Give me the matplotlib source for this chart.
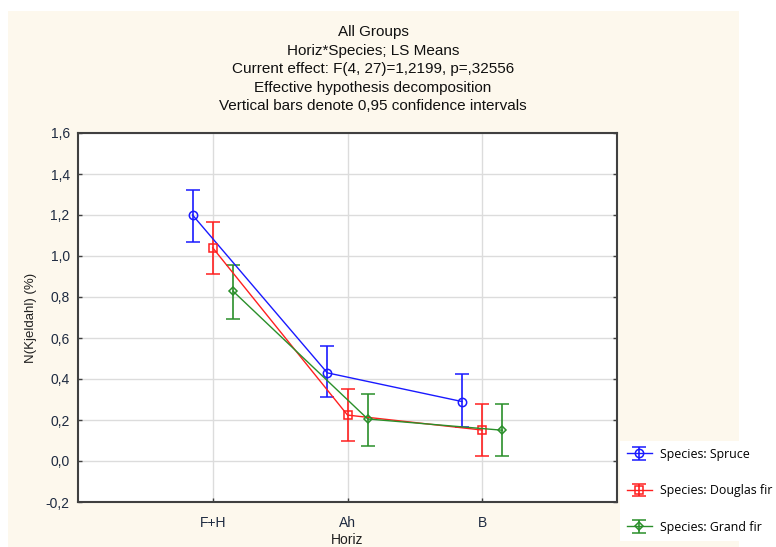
import numpy as np
import matplotlib.pyplot as plt
from matplotlib.patches import Rectangle
from matplotlib.ticker import FuncFormatter

# Horizons and LS means with 0.95 CI bounds
horizons = ["F+H", "Ah", "B"]
species = ["Species: Spruce", "Species: Douglas fir", "Species: Grand fir"]

spruce = [1.20, 0.43, 0.29]
spruce_lo = [1.07, 0.31, 0.166]
spruce_hi = [1.32, 0.56, 0.424]

douglas = [1.04, 0.224, 0.151]
douglas_lo = [0.912, 0.098, 0.024]
douglas_hi = [1.166, 0.351, 0.278]

grand = [0.829, 0.205, 0.15]
grand_lo = [0.695, 0.075, 0.024]
grand_hi = [0.956, 0.327, 0.278]

means = [spruce, douglas, grand]
lows = [spruce_lo, douglas_lo, grand_lo]
highs = [spruce_hi, douglas_hi, grand_hi]
colors = ["#1a1aff", "#ff1f1f", "#2a8f2a"]
markers = ["o", "s", "D"]
msizes = [6, 6, 4]
offsets = [-0.15, 0.0, 0.15]

plt.rcParams["font.family"] = ["Liberation Sans", "DejaVu Sans"]

fig = plt.figure(figsize=(7.76, 5.47), dpi=100, facecolor="white")
# cream panel behind everything
fig.patches.append(Rectangle((8 / 776, 0), (739 - 8) / 776, 1 - 11 / 547,
                             transform=fig.transFigure, facecolor="#fdf8ed",
                             edgecolor="none", zorder=-10))

ax = fig.add_axes([78 / 776, 1 - 502 / 547, (617 - 78) / 776, (502 - 133) / 547])
ax.set_facecolor("white")

x = np.arange(1, len(horizons) + 1)
handles = []
for m, lo, hi, c, mk, ms, off, lab in zip(means, lows, highs, colors, markers, msizes, offsets, species):
    m = np.array(m)
    yerr = [m - np.array(lo), np.array(hi) - m]
    h = ax.errorbar(x + off, m, yerr=yerr, color=c, lw=1.0, elinewidth=1.2,
                    capsize=5, capthick=1.2, marker=mk, ms=ms, mfc="none",
                    mec=c, mew=1.1, label=lab, zorder=3)
    handles.append(h)

ax.set_xlim(0, 4)
ax.set_ylim(-0.2, 1.6)
ax.set_xticks(x)
ax.set_xticklabels(horizons)
ax.set_yticks(np.arange(-0.2, 1.61, 0.2))
ax.yaxis.set_major_formatter(FuncFormatter(lambda v, p: f"{v:.1f}".replace(".", ",")))
ax.grid(True, color="#dcdcdc", lw=1.0, zorder=0)
ax.set_axisbelow(True)
ax.tick_params(direction="in", length=3, width=1, colors="#404040",
               labelcolor="#1e2a40", labelsize=10, right=True)
ax.tick_params(axis="y", pad=6)
ax.tick_params(axis="x", pad=10)
for s in ax.spines.values():
    s.set_color("#404040")
    s.set_linewidth(1.5)

ax.set_ylabel("N(Kjeldahl) (%)", fontsize=9.5, color="#202020", labelpad=6)
ax.set_xlabel("Horiz", fontsize=10, color="#202020", labelpad=2)

title = ("All Groups\nHoriz*Species; LS Means\nCurrent effect: F(4, 27)=1,2199, p=,32556\n"
         "Effective hypothesis decomposition\nVertical bars denote 0,95 confidence intervals")
fig.text(373 / 776, 1 - 25 / 547, title, ha="center", va="top", fontsize=11,
         color="#101010", linespacing=1.42)

leg = fig.legend(handles=handles, loc="upper left",
                 bbox_to_anchor=(620 / 776, 1 - 441 / 547), frameon=True,
                 fancybox=False, facecolor="white", edgecolor="none", framealpha=1,
                 prop={"family": "Open Sans", "size": 8.9}, labelspacing=1.9,
                 handlelength=2.0, borderpad=0.55, handletextpad=0.7, borderaxespad=0)

fig.savefig("out.png", dpi=100)
